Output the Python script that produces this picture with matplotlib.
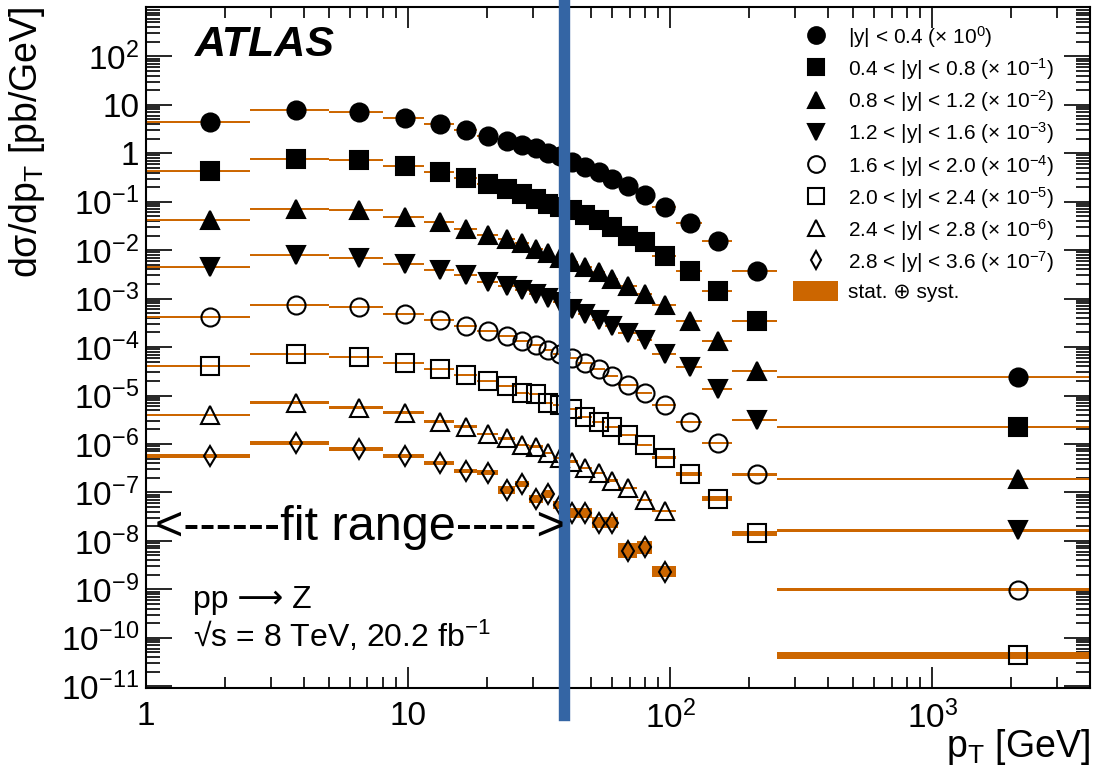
import numpy as np
import matplotlib
matplotlib.use('Agg')
import matplotlib.pyplot as plt
from matplotlib.lines import Line2D
from matplotlib.patches import Patch
from matplotlib.ticker import FixedLocator, FixedFormatter, LogLocator, NullFormatter

plt.rcParams['font.family'] = ['Liberation Sans', 'DejaVu Sans']
plt.rcParams['mathtext.fontset'] = 'custom'
plt.rcParams['mathtext.rm'] = 'Liberation Sans'
plt.rcParams['mathtext.it'] = 'Liberation Sans:italic'
plt.rcParams['mathtext.bf'] = 'Liberation Sans:bold'

# pT bin edges [GeV]
pt_edges = [1.0, 2.5, 5.0, 8.0, 11.5, 15.0, 18.4, 22.0, 25.6, 29.0, 32.8, 35.8,
            40.0, 44.5, 50.5, 56.5, 63.5, 74.5, 85.5, 105.0, 132.5, 172.0, 256.0, 4000.0]

rap_bins = ['|y| < 0.4', '0.4 < |y| < 0.8', '0.8 < |y| < 1.2', '1.2 < |y| < 1.6',
            '1.6 < |y| < 2.0', '2.0 < |y| < 2.4', '2.4 < |y| < 2.8', '2.8 < |y| < 3.6']
scale_exp = [0, -1, -2, -3, -4, -5, -6, -7]

# dsigma/dpT [pb/GeV], unscaled
xs_0 = [4.4, 7.9, 6.95, 5.4, 4.06, 3.05, 2.32, 1.83, 1.49, 1.27, 1.0, 0.86, 0.655, 0.515,
        0.405, 0.297, 0.207, 0.139, 0.0795, 0.0371, 0.0153, 0.00379, 2.37e-5]
xs_1 = [4.26, 7.7, 7.1, 5.41, 4.06, 3.06, 2.35, 1.84, 1.46, 1.15, 0.905, 0.778, 0.658, 0.519,
        0.41, 0.297, 0.20, 0.146, 0.077, 0.0367, 0.0142, 0.0035, 2.26e-5]
xs_2 = [4.1, 7.13, 6.58, 4.79, 3.78, 2.76, 2.07, 1.71, 1.39, 1.06, 0.865, 0.705, 0.564, 0.445,
        0.35, 0.256, 0.186, 0.125, 0.0753, 0.0352, 0.0132, 0.00327, 1.89e-5]
xs_3 = [4.46, 7.78, 6.98, 5.25, 3.95, 3.01, 2.19, 1.79, 1.47, 1.22, 1.05, 0.834, 0.619, 0.488,
        0.367, 0.268, 0.195, 0.137, 0.073, 0.0386, 0.0136, 0.00318, 1.64e-5]
xs_4 = [4.17, 7.29, 6.73, 4.92, 3.70, 2.70, 2.15, 1.67, 1.34, 1.09, 0.862, 0.714, 0.582, 0.459,
        0.346, 0.252, 0.164, 0.115, 0.0635, 0.0288, 0.0106, 0.00236, 9.9e-6]
xs_5 = [4.10, 7.15, 6.29, 4.74, 3.47, 2.64, 1.96, 1.55, 1.14, 1.05, 0.70, 0.638, 0.528, 0.366,
        0.289, 0.221, 0.153, 0.0955, 0.0523, 0.0241, 0.00745, 0.00143, 4.4e-6]
xs_6 = [3.96, 7.10, 5.60, 4.42, 2.89, 2.27, 1.61, 1.31, 0.952, 0.88, 0.643, 0.515, 0.432, 0.316,
        0.249, 0.175, 0.123, 0.070, 0.0415]
xs_7 = [5.64, 10.3, 7.87, 5.64, 3.99, 2.77, 2.56, 1.14, 1.52, 0.74, 0.93, 0.55, 0.372, 0.372,
        0.238, 0.238, 0.063, 0.074, 0.0232]

# relative stat+syst uncertainty
unc_0 = [0.03, 0.03, 0.03, 0.03, 0.03, 0.03, 0.03, 0.03, 0.03, 0.03, 0.03, 0.03, 0.03, 0.03,
         0.03, 0.03, 0.03, 0.03, 0.03, 0.03, 0.03, 0.04, 0.04]
unc_1 = [0.03, 0.03, 0.03, 0.03, 0.03, 0.03, 0.03, 0.03, 0.03, 0.03, 0.03, 0.03, 0.03, 0.03,
         0.03, 0.03, 0.03, 0.03, 0.03, 0.03, 0.03, 0.04, 0.04]
unc_2 = [0.03, 0.03, 0.03, 0.03, 0.03, 0.03, 0.03, 0.03, 0.03, 0.03, 0.03, 0.03, 0.03, 0.03,
         0.03, 0.03, 0.03, 0.03, 0.03, 0.03, 0.04, 0.04, 0.05]
unc_3 = [0.03, 0.03, 0.03, 0.03, 0.03, 0.03, 0.03, 0.03, 0.03, 0.03, 0.03, 0.03, 0.03, 0.03,
         0.03, 0.03, 0.03, 0.03, 0.03, 0.04, 0.04, 0.05, 0.06]
unc_4 = [0.04, 0.04, 0.04, 0.04, 0.04, 0.04, 0.04, 0.04, 0.04, 0.04, 0.04, 0.04, 0.04, 0.04,
         0.04, 0.04, 0.04, 0.04, 0.04, 0.05, 0.05, 0.06, 0.07]
unc_5 = [0.04, 0.04, 0.04, 0.04, 0.04, 0.04, 0.04, 0.04, 0.04, 0.04, 0.04, 0.04, 0.04, 0.04,
         0.04, 0.04, 0.05, 0.05, 0.08, 0.12, 0.12, 0.14, 0.18]
unc_6 = [0.06, 0.06, 0.06, 0.06, 0.06, 0.06, 0.06, 0.06, 0.06, 0.06, 0.06, 0.06, 0.06, 0.06,
         0.06, 0.06, 0.07, 0.07, 0.07]
unc_7 = [0.12, 0.10, 0.10, 0.10, 0.10, 0.12, 0.12, 0.20, 0.15, 0.22, 0.20, 0.22, 0.26, 0.26,
         0.30, 0.30, 0.45, 0.35, 0.32]

xsecs = [xs_0, xs_1, xs_2, xs_3, xs_4, xs_5, xs_6, xs_7]
uncs = [unc_0, unc_1, unc_2, unc_3, unc_4, unc_5, unc_6, unc_7]
markers = ['o', 's', '^', 'v', 'o', 's', '^', 'd']
filled = [True, True, True, True, False, False, False, False]

fit_max = 39.5

orange = '#cc6600'
blue = '#3465a4'

fig = plt.figure(figsize=(11.02, 7.82), dpi=100)
ax = fig.add_axes([0.1325, 0.1202, 0.8566, 0.8708])
ax.set_xscale('log')
ax.set_yscale('log')

edges = np.array(pt_edges)
handles = []
for i in range(8):
    vals = np.array(xsecs[i]) * 10.0 ** scale_exp[i]
    n = len(vals)
    lo_e = edges[:n]
    hi_e = edges[1:n + 1]
    centers = 0.5 * (lo_e + hi_e)
    u = np.array(uncs[i])
    lo = vals / (1 + u)
    hi = vals * (1 + u)
    ax.bar(lo_e, hi - lo, width=hi_e - lo_e, bottom=lo, align='edge',
           color=orange, linewidth=0, zorder=2)
    ax.hlines(vals, lo_e, hi_e, color=orange, lw=1.4, zorder=2)
    fc = 'black' if filled[i] else 'none'
    ms = 10 if markers[i] == 'd' else 13
    ax.plot(centers, vals, linestyle='none', marker=markers[i], ms=ms,
            mfc=fc, mec='black', mew=1.5, zorder=3)
    label = '%s (\u00d7 10$^{%d}$)' % (rap_bins[i], scale_exp[i])
    handles.append(Line2D([], [], linestyle='none', marker=markers[i],
                          ms=9 if markers[i] == 'd' else 12, mfc=fc, mec='black', mew=1.5,
                          label=label))
handles.append(Patch(facecolor=orange, edgecolor='none', label='stat. \u2295 syst.'))

ax.axvline(fit_max, ymin=-0.04, ymax=1.0105, color=blue, lw=8.2, clip_on=False, zorder=5)

ax.set_xlim(1, 4000)
ax.set_ylim(9.2e-12, 1.04e3)

yt = [10.0 ** k for k in range(-11, 3)]
ytl = ['$10^{%d}$' % k for k in range(-11, 3)]
ytl[11] = '1'
ytl[12] = '10'
ax.yaxis.set_major_locator(FixedLocator(yt))
ax.yaxis.set_major_formatter(FixedFormatter(ytl))
ax.yaxis.set_minor_locator(LogLocator(base=10, subs=np.arange(2, 10), numticks=100))
ax.yaxis.set_minor_formatter(NullFormatter())

xt = [1, 10, 100, 1000]
ax.xaxis.set_major_locator(FixedLocator(xt))
ax.xaxis.set_major_formatter(FixedFormatter(['1', '10', '$10^{2}$', '$10^{3}$']))
ax.xaxis.set_minor_locator(LogLocator(base=10, subs=np.arange(2, 10), numticks=100))
ax.xaxis.set_minor_formatter(NullFormatter())

ax.tick_params(which='both', direction='in', top=True, right=True, labelsize=24, width=1.2)
ax.tick_params(axis='x', which='major', length=15, pad=9)
ax.tick_params(axis='x', which='minor', length=8)
ax.tick_params(axis='y', which='major', length=19, pad=5)
ax.tick_params(axis='y', which='minor', length=10)
for s in ax.spines.values():
    s.set_linewidth(1.5)

ax.set_ylabel('d\u03c3/dp$_{\\mathrm{T}}$ [pb/GeV]', fontsize=27, loc='top')
ax.yaxis.set_label_coords(-0.105, 1.0)
ax.set_xlabel('p$_{\\mathrm{T}}$ [GeV]', fontsize=27, loc='right')
ax.xaxis.set_label_coords(1.0, -0.058)

ax.text(0.052, 0.944, 'ATLAS', transform=ax.transAxes, fontsize=31,
        fontweight='bold', fontstyle='italic', va='center', ha='left')
ax.text(0.05, 0.129, 'pp \u27f6 Z', transform=ax.transAxes, fontsize=23, va='center')
ax.text(0.05, 0.076, '\u221as = 8 TeV, 20.2 fb$^{-1}$', transform=ax.transAxes,
        fontsize=23, va='center')
ax.text(0.009, 0.235, '<------fit range----->', transform=ax.transAxes, fontsize=35,
        va='center', ha='left', zorder=6)

ax.legend(handles=handles, loc='upper left', bbox_to_anchor=(0.685, 0.975), frameon=False,
          fontsize=15, handlelength=2.2, handleheight=1.1, handletextpad=0.45,
          labelspacing=0.3, borderpad=0, borderaxespad=0)

fig.savefig('out.png', dpi=100)
